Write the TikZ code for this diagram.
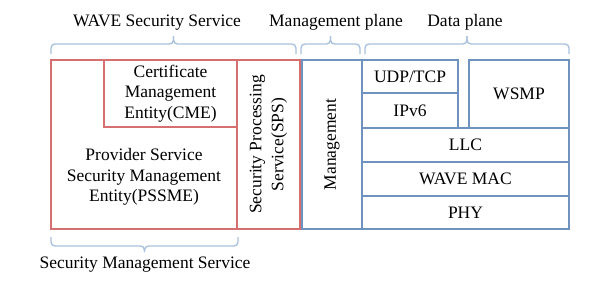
\documentclass[tikz,border=0pt]{standalone}
\usepackage{fontspec}
\setmainfont{Liberation Serif}
\usetikzlibrary{positioning,calc}

\definecolor{secred}{RGB}{214,112,112}
\definecolor{netblue}{RGB}{112,146,190}
\definecolor{braceblue}{RGB}{170,194,220}

\tikzset{
  layer/.style={line width=1.6pt, inner sep=0pt, outer sep=0pt,
                anchor=north west, align=center},
  secbox/.style={layer, draw=secred},
  netbox/.style={layer, draw=netblue},
  brace line/.style={draw=braceblue, line width=1.4pt, rounded corners=4pt},
  planelabel/.style={anchor=base}
}

% braces above and below the stack
\newcommand{\topbrace}[2]{%
  \draw[brace line] (#1) -- ++(0,-10) -| ($(#1)!0.5!(#2)+(0,-18)$);
  \draw[brace line] (#2) -- ++(0,-10) -| ($(#1)!0.5!(#2)+(0,-18)$);
}
\newcommand{\botbrace}[2]{%
  \draw[brace line] (#1) -- ++(0,9) -| ($(#1)!0.5!(#2)+(0,15)$);
  \draw[brace line] (#2) -- ++(0,9) -| ($(#1)!0.5!(#2)+(0,15)$);
}

\begin{document}
\begin{tikzpicture}[x=1pt, y=-1pt, font=\fontsize{17.5}{20.5}\selectfont]
    \useasboundingbox (0,0) rectangle (599,289);

    % Security side
    \node[secbox, minimum width=186pt, minimum height=169pt] (pssme) at (51,60) {};
    \node[align=center] (pssmetext) at (144,177) {Provider Service\\Security Management\\Entity(PSSME)};
    \node[secbox, minimum width=133pt, minimum height=67pt] (cme) at (104,60)
        {Certificate\\Management\\Entity(CME)};
    \node[secbox, minimum width=63pt, minimum height=169pt] (sps) at (pssme.north east) {};
    \node[rotate=90, align=center, font=\fontsize{17.5}{22}\selectfont] (spstext) at (sps.center)
        {Security Processing\\Service(SPS)};

    % Management plane
    \node[netbox, minimum width=60pt, minimum height=169pt] (mgmt) at (302,60) {};
    \node[rotate=90] (mgmttext) at (mgmt.center) {Management};

    % Data plane
    \node[netbox, minimum width=96pt, minimum height=33pt] (udp) at (mgmt.north east) {UDP/TCP};
    \node[netbox, minimum width=96pt, minimum height=35pt] (ipv6) at (udp.south west) {IPv6};
    \node[netbox, minimum width=100pt, minimum height=68pt] (wsmp) at (469,60) {WSMP};
    \node[netbox, minimum width=207pt, minimum height=34pt] (llc) at (ipv6.south west) {LLC};
    \node[netbox, minimum width=207pt, minimum height=34pt] (mac) at (llc.south west) {WAVE MAC};
    \node[netbox, minimum width=207pt, minimum height=33pt] (phy) at (mac.south west) {PHY};

    % Brace ends
    \coordinate (wavel) at ($(pssme.north west)+(0,-6)$);
    \coordinate (waver) at ($(sps.north east)+(-4,-6)$);
    \coordinate (mgmtl) at ($(mgmt.north west)+(-1,-6)$);
    \coordinate (mgmtr) at ($(mgmt.north east)+(-2,-6)$);
    \coordinate (datal) at ($(udp.north west)+(3,-6)$);
    \coordinate (datar) at ($(wsmp.north east)+(0,-6)$);
    \coordinate (smsl) at ($(pssme.south west)+(0,8)$);
    \coordinate (smsr) at ($(pssme.south east)+(1,8)$);

    \topbrace{wavel}{waver}
    \topbrace{mgmtl}{mgmtr}
    \topbrace{datal}{datar}
    \botbrace{smsl}{smsr}

    % Labels
    \node[planelabel] (wavelabel) at (157,26) {WAVE Security Service};
    \node[planelabel] (mgmtlabel) at (336,26) {Management plane};
    \node[planelabel] (datalabel) at (465,26) {Data plane};
    \node[planelabel] (smslabel) at (145,268) {Security Management Service};
\end{tikzpicture}
\end{document}
